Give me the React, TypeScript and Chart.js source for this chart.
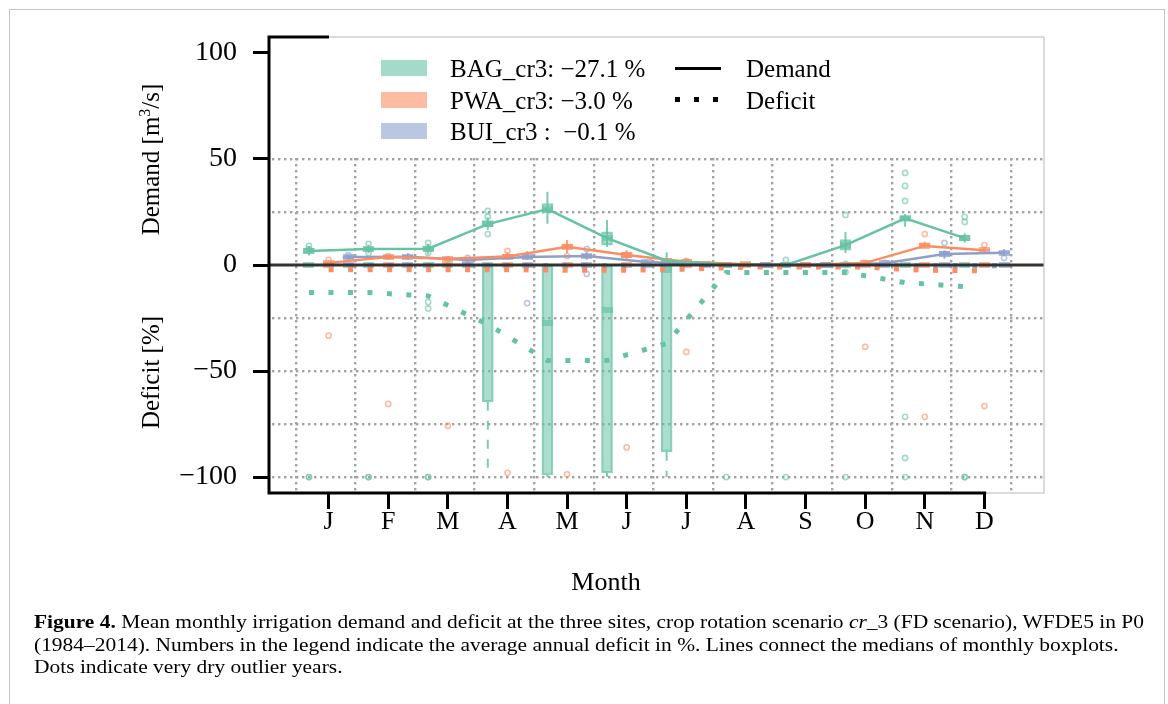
import React, { useEffect, useLayoutEffect, useRef } from 'react';
import { Chart, registerables } from 'chart.js';

Chart.register(...registerables);

// ---------------- data ----------------
const MONTH_LABELS = ['J', 'F', 'M', 'A', 'M', 'J', 'J', 'A', 'S', 'O', 'N', 'D'];
const MONTH_X = [1, 2, 3, 4, 5, 6, 7, 8, 9, 10, 11, 12];
const Y_TICKS = [-100, -50, 0, 50, 100];
const GRID_X = [0.445, 1.445, 2.445, 3.445, 4.445, 5.445, 6.445, 7.445, 8.445, 9.445, 10.445, 11.445, 12.445];
const GRID_Y = [-100, -75, -50, -25, 25, 50];
const GRID_TOP = 52;

const LEGEND_SITES = ['BAG_cr3: −27.1 %', 'PWA_cr3: −3.0 %', 'BUI_cr3 :  −0.1 %'];

// BAG
const BAG_DEMAND_MED = [6.6, 7.5, 7.7, 19.3, 26.4, 12.7, 2.0, 0.2, 0, 9.4, 22.0, 12.7];
const BAG_DEMAND_Q1 = [5.5, 6.5, 6.5, 18.0, 24.5, 9.4, 0.5, 0, 0, 7.0, 20.5, 11.5];
const BAG_DEMAND_Q3 = [8.0, 8.5, 9.0, 21.0, 29.0, 15.6, 3.0, 0.5, 0, 12.0, 23.0, 14.0];
const BAG_DEMAND_LO = [4.5, 5.5, 5.0, 16.5, 19.5, 8.5, 0, 0, 0, 5.6, 18.0, 10.5];
const BAG_DEMAND_HI = [9.0, 9.5, 10.0, 22.5, 34.5, 21.2, 6.0, 1.0, 0, 15.6, 24.0, 15.0];
const BAG_DEFICIT_MED = [0, 0, 0, 0, -27.5, -21.0, -2.5, 0, 0, 0, 0, 0];
const BAG_DEFICIT_Q1 = [0, 0, 0, -64.5, -99.0, -98.0, -88.0, 0, 0, 0, 0, 0];
const BAG_DEFICIT_LO = [0, 0, 0, -100, -100, -100, -100, 0, 0, 0, 0, 0];
const BAG_DEFICIT_LINE = [-13.0, -13.0, -14.6, -28.0, -45.0, -45.0, -37.0, -3.5, -3.5, -3.5, -8.3, -10.2];
const BAG_OUTLIERS: [number, number][] = [
  [1, 9.0], [1, 7.5], [1, -100], [1, -100],
  [2, 10.0], [2, 5.6], [2, -100], [2, -100],
  [3, 10.4], [3, 5.7], [3, -17.5], [3, -20.5], [3, -100], [3, -100],
  [4, 25.5], [4, 22.7], [4, 14.6],
  [8, -100],
  [9, 2.4], [9, -100],
  [10, 23.6], [10, 0.5], [10, -3.3], [10, -100],
  [11, 43.4], [11, 37.3], [11, 30.2], [11, -71.6], [11, -91.0], [11, -100],
  [12, 22.7], [12, 20.3], [12, -100], [12, -100],
];

// PWA
const PWA_DEMAND_MED = [1.0, 3.8, 3.0, 4.0, 8.6, 4.7, 1.5, 0.3, 0, 1.0, 9.0, 7.0];
const PWA_DEMAND_Q1 = [0.5, 3.0, 2.5, 3.3, 7.5, 3.5, 1.0, 0, 0, 0.5, 8.5, 6.5];
const PWA_DEMAND_Q3 = [1.5, 4.5, 3.5, 5.0, 10.0, 6.0, 2.5, 0.5, 0, 1.5, 10.5, 7.5];
const PWA_DEMAND_LO = [0, 2.5, 2.0, 2.5, 5.5, 2.5, 0.5, 0, 0, 0, 8.0, 6.0];
const PWA_DEMAND_HI = [2.0, 5.0, 4.0, 6.0, 11.8, 7.0, 3.0, 1.0, 0, 2.0, 11.0, 8.5];
const PWA_DEFICIT_MED = [0, 0, 0, 0, 0, 0, 0, 0, 0, 0, 0, 0];
const PWA_DEFICIT_Q1 = [0, 0, 0, 0, 0, 0, 0, 0, 0, 0, 0, 0];
const PWA_DEFICIT_LO = [0, 0, 0, 0, 0, 0, 0, 0, 0, 0, 0, 0];
const PWA_DEFICIT_LINE = [-2.2, -2.2, -2.2, -2.2, -2.5, -2.5, -2.0, -1.0, -1.0, -1.0, -2.5, -2.7];
const PWA_OUTLIERS: [number, number][] = [
  [1, 2.4], [1, -33.3],
  [2, 4.2], [2, -65.5],
  [3, 2.8], [3, -75.8],
  [4, 6.6], [4, -98.0],
  [5, 4.2], [5, -98.7],
  [6, -86.0],
  [7, 1.9], [7, -41.0],
  [10, 1.0], [10, -38.6],
  [11, 14.6], [11, -71.6],
  [12, 9.4], [12, -66.5],
];

// BUI
const BUI_DEMAND_MED = [3.8, 3.9, 2.4, 3.8, 4.2, 1.4, 0.5, 0, 0, 0.8, 5.2, 5.8];
const BUI_DEMAND_Q1 = [3.0, 3.0, 2.0, 3.0, 3.5, 1.0, 0, 0, 0, 0.5, 4.0, 5.0];
const BUI_DEMAND_Q3 = [4.5, 4.8, 3.0, 4.8, 5.0, 2.0, 1.0, 0, 0, 1.0, 6.5, 6.5];
const BUI_DEMAND_LO = [2.5, 2.5, 1.5, 2.5, 2.5, 0.5, 0, 0, 0, 0, 3.0, 4.5];
const BUI_DEMAND_HI = [5.0, 5.5, 3.5, 6.5, 6.0, 2.5, 1.5, 0, 0, 1.5, 7.0, 7.5];
const BUI_DEFICIT_MED = [0, 0, 0, 0, 0, 0, 0, 0, 0, 0, 0, 0];
const BUI_DEFICIT_Q1 = [0, 0, 0, 0, 0, 0, 0, 0, 0, 0, 0, 0];
const BUI_DEFICIT_LO = [0, 0, 0, 0, 0, 0, 0, 0, 0, 0, 0, 0];
const BUI_DEFICIT_LINE = [-0.3, -0.3, -0.3, -0.3, -0.3, -0.3, -0.3, -0.3, -0.3, -0.3, -0.3, -0.3];
const BUI_OUTLIERS: [number, number][] = [
  [1, 4.6], [3, 3.3], [4, -18.0], [5, 7.5], [5, -4.2], [10, 1.0], [11, 10.4], [12, 3.3],
];

// ---------------- styles ----------------
const SERIF = '"Liberation Serif", "Times New Roman", serif';
const COL_BAG = [102, 194, 165];
const COL_PWA = [252, 141, 98];
const COL_BUI = [141, 160, 203];
const rgba = (c: number[], a: number) => `rgba(${c[0]},${c[1]},${c[2]},${a})`;

const SITES = [
  { offset: -0.33, color: COL_BAG, dMed: BAG_DEMAND_MED, dQ1: BAG_DEMAND_Q1, dQ3: BAG_DEMAND_Q3, dLo: BAG_DEMAND_LO, dHi: BAG_DEMAND_HI, fMed: BAG_DEFICIT_MED, fQ1: BAG_DEFICIT_Q1, fLo: BAG_DEFICIT_LO, fLine: BAG_DEFICIT_LINE, out: BAG_OUTLIERS },
  { offset: 0, color: COL_PWA, dMed: PWA_DEMAND_MED, dQ1: PWA_DEMAND_Q1, dQ3: PWA_DEMAND_Q3, dLo: PWA_DEMAND_LO, dHi: PWA_DEMAND_HI, fMed: PWA_DEFICIT_MED, fQ1: PWA_DEFICIT_Q1, fLo: PWA_DEFICIT_LO, fLine: PWA_DEFICIT_LINE, out: PWA_OUTLIERS },
  { offset: 0.33, color: COL_BUI, dMed: BUI_DEMAND_MED, dQ1: BUI_DEMAND_Q1, dQ3: BUI_DEMAND_Q3, dLo: BUI_DEMAND_LO, dHi: BUI_DEMAND_HI, fMed: BUI_DEFICIT_MED, fQ1: BUI_DEFICIT_Q1, fLo: BUI_DEFICIT_LO, fLine: BUI_DEFICIT_LINE, out: BUI_OUTLIERS },
];

function rectCanvas(color: string, w: number, h: number) {
  const c = document.createElement('canvas');
  c.width = w;
  c.height = h;
  const g = c.getContext('2d')!;
  g.fillStyle = color;
  g.fillRect(0, 0, w, h);
  return c;
}

function buildDatasets() {
  const ds: any[] = [];
  SITES.forEach((s) => {
    const xs = MONTH_X.map((m) => m + s.offset);
    const medStyle = rectCanvas(rgba(s.color, 0.65), 11, 6);
    ds.push({
      type: 'bar',
      data: xs.map((x, i) => ({ x, y: [s.dQ1[i], s.dQ3[i]] })).filter((p) => p.y[1] > p.y[0]),
      backgroundColor: rgba(s.color, 0.55),
      borderColor: rgba(s.color, 0.75),
      borderWidth: 1.5,
      borderSkipped: false,
      barThickness: 11,
      grouped: false,
      order: 5,
    });
    ds.push({
      type: 'bar',
      data: xs.map((x, i) => ({ x, y: [s.fQ1[i], 0] })).filter((p) => p.y[0] < 0),
      backgroundColor: rgba(s.color, 0.55),
      borderColor: rgba(s.color, 0.75),
      borderWidth: 1.5,
      borderSkipped: false,
      barThickness: 11,
      grouped: false,
      order: 5,
    });
    const wd: any[] = [];
    xs.forEach((x, i) => {
      if (s.dHi[i] > s.dLo[i]) wd.push({ x, y: s.dLo[i] }, { x, y: s.dHi[i] }, { x, y: null });
    });
    ds.push({
      type: 'line', data: wd, borderColor: rgba(s.color, 0.85), borderWidth: 2,
      pointRadius: 0, spanGaps: false, order: 4,
    });
    const wf: any[] = [];
    xs.forEach((x, i) => {
      if (s.fLo[i] < s.fQ1[i]) wf.push({ x, y: s.fQ1[i] }, { x, y: s.fLo[i] }, { x, y: null });
    });
    ds.push({
      type: 'line', data: wf, borderColor: rgba(s.color, 0.85), borderWidth: 2,
      borderDash: [9, 10], pointRadius: 0, spanGaps: false, order: 4,
    });
    ds.push({
      type: 'scatter',
      data: [...xs.map((x, i) => ({ x, y: s.dMed[i] })), ...xs.map((x, i) => ({ x, y: s.fMed[i] }))],
      pointStyle: medStyle, pointRadius: 5, order: 3,
    });
    ds.push({
      type: 'scatter',
      data: s.out.map(([m, v]) => ({ x: m + s.offset, y: v })),
      pointStyle: 'circle', pointRadius: 2.6, pointBorderWidth: 1.6,
      pointBorderColor: rgba(s.color, 0.6), pointBackgroundColor: 'rgba(255,255,255,0)', order: 2,
    });
    ds.push({
      type: 'line', data: xs.map((x, i) => ({ x, y: s.dMed[i] })),
      borderColor: rgba(s.color, 1), borderWidth: 2.5, pointRadius: 0, order: 1,
    });
    ds.push({
      type: 'line', data: xs.map((x, i) => ({ x, y: s.fLine[i] })),
      borderColor: rgba(s.color, 1), borderWidth: 5, borderDash: [5, 14.5], borderCapStyle: 'butt',
      pointRadius: 0, order: 1,
    });
  });
  return ds;
}

const decorPlugin = {
  id: 'decor',
  beforeDatasetsDraw(chart: any) {
    const { ctx, chartArea, scales } = chart;
    const x = scales.x;
    const y = scales.y;
    ctx.save();
    ctx.fillStyle = '#a3a3a3';
    const topPx = y.getPixelForValue(GRID_TOP);
    GRID_X.forEach((gx) => {
      const px = Math.round(x.getPixelForValue(gx));
      for (let py = chartArea.bottom - 4; py > topPx; py -= 6) ctx.fillRect(px - 1, py - 1, 2.4, 2.4);
    });
    GRID_Y.forEach((gy) => {
      const py = Math.round(y.getPixelForValue(gy));
      for (let px = chartArea.left + 4; px < chartArea.right; px += 6) ctx.fillRect(px - 1, py - 1, 2.4, 2.4);
    });
    ctx.restore();
  },
  afterDatasetsDraw(chart: any) {
    const { ctx, chartArea, scales } = chart;
    const y0 = scales.y.getPixelForValue(0);
    const xEnd = scales.x.getPixelForValue(12.03);
    ctx.save();
    ctx.strokeStyle = '#333333';
    ctx.lineWidth = 3;
    ctx.beginPath();
    ctx.moveTo(chartArea.left, y0);
    ctx.lineTo(chartArea.right, y0);
    ctx.stroke();
    ctx.strokeStyle = '#c4c4c4';
    ctx.lineWidth = 1.2;
    ctx.strokeRect(chartArea.left, chartArea.top, chartArea.right - chartArea.left, chartArea.bottom - chartArea.top);
    ctx.strokeStyle = '#000';
    ctx.lineWidth = 3;
    ctx.beginPath();
    ctx.moveTo(chartArea.left + 60, chartArea.top);
    ctx.lineTo(chartArea.left, chartArea.top);
    ctx.lineTo(chartArea.left, chartArea.bottom);
    ctx.lineTo(xEnd, chartArea.bottom);
    ctx.stroke();
    ctx.restore();
  },
};

function ChartCanvas() {
  const ref = useRef<HTMLCanvasElement>(null);
  useEffect(() => {
    if (!ref.current) return;
    const chart = new Chart(ref.current, {
      type: 'line',
      data: { datasets: buildDatasets() },
      plugins: [decorPlugin],
      options: {
        animation: false,
        responsive: false,
        devicePixelRatio: 1,
        layout: { padding: { top: 37, right: 124, left: 0, bottom: 0 } },
        plugins: { legend: { display: false }, tooltip: { enabled: false } },
        scales: {
          x: {
            type: 'linear',
            min: 0,
            max: 13,
            offset: false,
            afterBuildTicks: (s: any) => { s.ticks = MONTH_X.map((v) => ({ value: v })); },
            afterFit: (s: any) => { s.height = 211; },
            ticks: {
              callback: (v: any) => MONTH_LABELS[Number(v) - 1],
              font: { family: SERIF, size: 26 },
              color: '#000',
              padding: -2,
              maxRotation: 0,
              autoSkip: false,
            },
            grid: { offset: false, drawOnChartArea: false, drawTicks: true, tickLength: 16, tickWidth: 3, tickColor: '#000' },
            border: { display: false },
          },
          y: {
            type: 'linear',
            min: -107.5,
            max: 107.5,
            afterBuildTicks: (s: any) => { s.ticks = Y_TICKS.map((v) => ({ value: v })); },
            afterFit: (s: any) => { s.width = 269; },
            ticks: {
              callback: (v: any) => (Number(v) < 0 ? '−' + Math.abs(Number(v)) : String(v)),
              font: { family: SERIF, size: 28 },
              color: '#000',
              padding: 16,
            },
            grid: { drawOnChartArea: false, drawTicks: true, tickLength: 16, tickWidth: 3, tickColor: '#000' },
            border: { display: false },
          },
        },
      } as any,
    });
    return () => chart.destroy();
  }, []);
  return <canvas ref={ref} width={1168} height={704} style={{ position: 'absolute', left: 0, top: 0, width: 1168, height: 704 }} />;
}

const legendColors = [COL_BAG, COL_PWA, COL_BUI];
const LEGEND_ROWS_Y = [68, 100, 131];

export default function App() {
  const capRef = useRef<HTMLDivElement>(null);
  useLayoutEffect(() => {
    const el = capRef.current;
    if (!el) return;
    const l1 = el.querySelector('[data-l="1"]') as HTMLElement;
    const w = l1.getBoundingClientRect().width;
    const s = 1110 / w;
    el.querySelectorAll('[data-l]').forEach((n) => {
      (n as HTMLElement).style.transform = `scaleX(${s})`;
    });
  }, []);

  const text = (extra: React.CSSProperties): React.CSSProperties => ({
    position: 'absolute', fontFamily: SERIF, color: '#000', whiteSpace: 'pre', ...extra,
  });
  const capLine = (cy: number): React.CSSProperties => ({
    position: 'absolute', top: cy - 11, left: 0, whiteSpace: 'pre', lineHeight: '22px',
    transformOrigin: 'left center', display: 'inline-block',
  });

  return (
    <div style={{ position: 'absolute', left: 0, top: 0, width: 1168, height: 704, overflow: 'hidden', background: '#fff' }}>
      <div style={{ position: 'absolute', left: 9, top: 9, width: 1156, height: 760, border: '1.5px solid #c4c4c4', boxSizing: 'border-box' }} />
      <ChartCanvas />
      <div style={text({ left: 150 - 100, top: 159 - 12.5, width: 200, height: 25, lineHeight: '25px', fontSize: 25, textAlign: 'center', transform: 'rotate(-90deg)' })}>
        Demand [m<sup style={{ fontSize: 16, lineHeight: 0, verticalAlign: 'baseline', position: 'relative', top: -9 }}>3</sup>/s]
      </div>
      <div style={text({ left: 150 - 100, top: 372 - 12.5, width: 200, height: 25, lineHeight: '25px', fontSize: 25, textAlign: 'center', transform: 'rotate(-90deg)' })}>
        Deficit [%]
      </div>
      <div style={text({ left: 606 - 100, top: 582 - 13, width: 200, height: 26, lineHeight: '26px', fontSize: 26, textAlign: 'center' })}>Month</div>
      {LEGEND_SITES.map((label, i) => (
        <React.Fragment key={label}>
          <div style={{ position: 'absolute', left: 381, top: LEGEND_ROWS_Y[i] - 8, width: 46, height: 16, background: rgba(legendColors[i], 0.6) }} />
          <div style={text({ left: 450, top: LEGEND_ROWS_Y[i] - 12.5, height: 25, lineHeight: '25px', fontSize: 25 })}>{label}</div>
        </React.Fragment>
      ))}
      <div style={{ position: 'absolute', left: 675, top: 66.5, width: 46, height: 3, background: '#000' }} />
      {[675, 694, 713].map((x) => (
        <div key={x} style={{ position: 'absolute', left: x, top: 97, width: 5, height: 5, background: '#000' }} />
      ))}
      <div style={text({ left: 746, top: 68 - 12.5, height: 25, lineHeight: '25px', fontSize: 25 })}>Demand</div>
      <div style={text({ left: 746, top: 100 - 12.5, height: 25, lineHeight: '25px', fontSize: 25 })}>Deficit</div>
      <div ref={capRef} style={{ position: 'absolute', left: 34, top: 0, fontFamily: SERIF, fontSize: 18.5, color: '#000' }}>
        <div data-l="1" style={capLine(622)}>
          <b>Figure 4.</b> Mean monthly irrigation demand and deficit at the three sites, crop rotation scenario <i>cr</i>_3 (FD scenario), WFDE5 in P0
        </div>
        <div data-l="2" style={capLine(644.5)}>
          (1984–2014). Numbers in the legend indicate the average annual deficit in %. Lines connect the medians of monthly boxplots.
        </div>
        <div data-l="3" style={capLine(667)}>
          Dots indicate very dry outlier years.
        </div>
      </div>
    </div>
  );
}
